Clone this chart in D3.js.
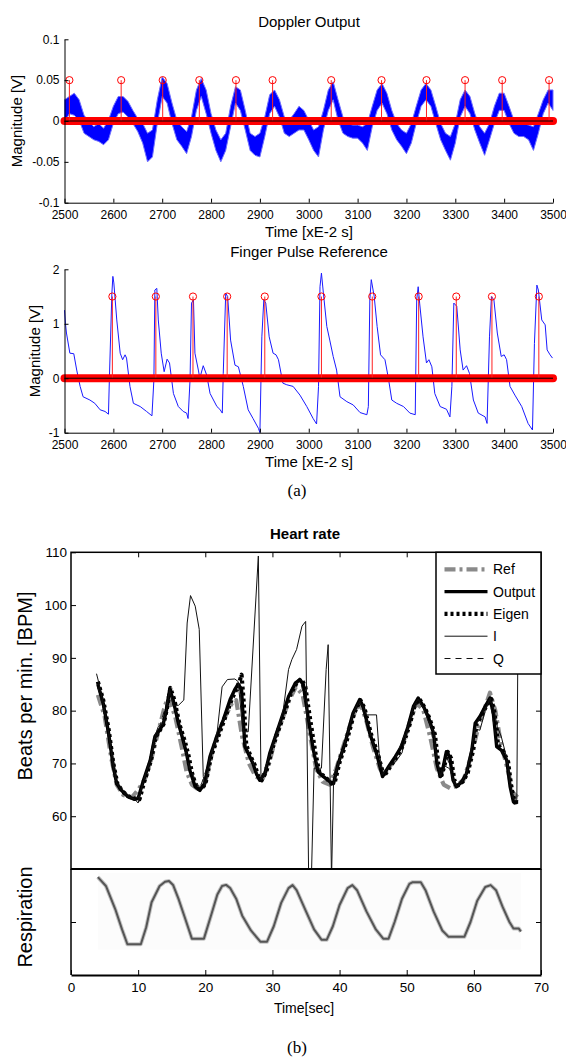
<!DOCTYPE html>
<html>
<head>
<meta charset="utf-8">
<script src="https://cdn.jsdelivr.net/npm/d3@7"></script>
<style>
  body { margin: 0; background: #fff; }
  svg { display: block; font-family: "Liberation Sans", Arial, sans-serif; }
</style>
</head>
<body>
<svg id="drawing_region" width="566" height="1061"></svg>
<script>
// ---------------- data: (a) ----------------
const timeTicksA = [2500, 2600, 2700, 2800, 2900, 3000, 3100, 3200, 3300, 3400, 3500];
const dopplerYTicks = [-0.1, -0.05, 0, 0.05, 0.1];
const pulseYTicks = [-1, 0, 1, 2];

// Doppler output: noisy band, upper / lower edge read every 10 samples from 2500
const dopplerStart = 2500, dopplerStep = 10;
const dopplerHi = [0.026, 0.030, 0.034, 0.026, 0.007, -0.001, -0.007, -0.003, -0.009, 0.001,
  0.018, 0.030, 0.030, 0.024, 0.013, 0.003, -0.003, -0.015, -0.011, 0.026,
  0.054, 0.046, 0.022, 0.001, -0.007, -0.013, 0.005, 0.038, 0.052, 0.038,
  0.009, -0.011, -0.023, -0.015, 0.018, 0.042, 0.038, 0.013, -0.015, -0.019,
  -0.015, 0.005, 0.032, 0.038, 0.026, 0.005, 0.001, 0.009, 0.018, 0.013,
  0.001, -0.011, -0.007, 0.013, 0.038, 0.048, 0.026, 0.005, -0.003, -0.005,
  -0.005, -0.007, -0.003, 0.018, 0.038, 0.046, 0.034, 0.013, -0.003, -0.011,
  -0.015, -0.003, 0.018, 0.038, 0.046, 0.038, 0.018, -0.003, -0.015, -0.019,
  -0.003, 0.026, 0.038, 0.030, 0.009, -0.007, -0.015, -0.003, 0.018, 0.034,
  0.034, 0.018, 0.001, -0.003, -0.003, -0.005, -0.007, 0.009, 0.026, 0.038, 0.038];
const dopplerLo = [-0.001, 0.009, 0.007, 0.001, -0.015, -0.019, -0.023, -0.025, -0.029, -0.023,
  -0.003, 0.009, 0.011, 0.005, -0.003, -0.013, -0.027, -0.050, -0.044, -0.003,
  0.030, 0.022, -0.003, -0.023, -0.031, -0.040, -0.019, 0.013, 0.030, 0.009,
  -0.015, -0.036, -0.050, -0.036, -0.007, 0.022, 0.013, -0.011, -0.036, -0.042,
  -0.044, -0.019, 0.009, 0.018, 0.005, -0.015, -0.019, -0.015, -0.011, -0.011,
  -0.023, -0.036, -0.044, -0.011, 0.013, 0.026, 0.001, -0.015, -0.019, -0.021,
  -0.021, -0.027, -0.036, -0.007, 0.013, 0.022, 0.009, -0.011, -0.023, -0.031,
  -0.040, -0.027, -0.003, 0.018, 0.026, 0.018, -0.003, -0.023, -0.036, -0.048,
  -0.027, 0.005, 0.018, 0.009, -0.011, -0.027, -0.042, -0.023, -0.003, 0.013,
  0.013, -0.003, -0.015, -0.019, -0.019, -0.023, -0.036, -0.015, 0.009, 0.022, 0.013];
const dopplerPeaks = [2510, 2616, 2701, 2776, 2851, 2926, 3046, 3149, 3241, 3320, 3396, 3492];
const dopplerPeakValue = 0.05;

// finger pulse reference [time, volts]
const pulse = [[2500,1.25],[2502,1.0],[2504,0.83],[2511,0.46],[2519,0.45],[2525,0.15],[2532,-0.15],
  [2538,-0.34],[2552,-0.40],[2562,-0.46],[2573,-0.58],[2583,-0.61],[2590,-0.66],[2592,0.03],[2597,1.56],
  [2599,1.87],[2601,1.75],[2607,1.07],[2614,0.46],[2619,0.34],[2624,0.43],[2627,0.37],[2634,-0.15],
  [2641,-0.46],[2655,-0.52],[2668,-0.61],[2679,-0.69],[2683,-0.03],[2685,1.62],[2689,1.65],[2692,1.07],
  [2698,0.46],[2704,0.12],[2710,0.35],[2715,0.28],[2723,-0.28],[2733,-0.52],[2743,-0.61],[2750,-0.64],
  [2753,-0.74],[2757,-0.03],[2760,1.38],[2764,1.44],[2767,0.46],[2774,0.15],[2777,0.0],[2784,0.23],
  [2791,0.06],[2798,-0.28],[2812,-0.52],[2818,-0.57],[2823,-0.64],[2825,0.09],[2830,1.56],[2834,1.50],
  [2840,0.70],[2849,0.24],[2856,0.21],[2866,-0.15],[2876,-0.58],[2886,-0.74],[2897,-0.92],[2900,-1.0],
  [2904,0.76],[2908,1.44],[2912,1.38],[2919,0.76],[2927,0.46],[2933,0.43],[2938,0.34],[2947,-0.09],
  [2955,-0.12],[2968,-0.15],[2982,-0.31],[2996,-0.52],[3009,-0.74],[3016,-0.84],[3020,-0.15],[3023,1.68],
  [3026,1.93],[3030,1.56],[3037,0.95],[3043,0.70],[3050,0.40],[3057,0.15],[3064,-0.34],[3078,-0.43],
  [3091,-0.49],[3105,-0.63],[3119,-0.67],[3122,-0.52],[3125,1.44],[3128,1.81],[3134,1.50],[3140,0.95],
  [3147,0.43],[3156,0.34],[3163,0.0],[3170,-0.40],[3180,-0.46],[3194,-0.52],[3207,-0.64],[3218,-0.67],
  [3221,1.44],[3224,1.68],[3227,1.38],[3234,0.76],[3241,0.28],[3246,0.34],[3252,0.21],[3258,-0.28],
  [3269,-0.52],[3282,-0.57],[3289,-0.71],[3293,-0.15],[3297,1.38],[3303,1.32],[3310,0.52],[3316,0.15],
  [3323,0.23],[3329,0.09],[3337,-0.40],[3347,-0.64],[3361,-0.71],[3365,-0.83],[3370,0.76],[3374,1.50],
  [3379,1.44],[3386,0.83],[3394,0.40],[3400,0.43],[3405,0.34],[3412,-0.15],[3422,-0.31],[3436,-0.52],
  [3449,-0.83],[3458,-0.95],[3462,0.64],[3467,1.71],[3470,1.62],[3477,1.07],[3484,0.98],[3488,0.52],
  [3494,0.43],[3499,0.37]];
const pulsePeaks = [2598, 2687, 2763, 2833, 2910, 3026, 3130, 3225, 3302, 3375, 3471];
const pulsePeakValue = 1.5;

// ---------------- data: (b) ----------------
const secTicks = [0, 10, 20, 30, 40, 50, 60, 70];
const hrYTicks = [60, 70, 80, 90, 100, 110];
const legendLabels = ["Ref", "Output", "Eigen", "I", "Q"];

const hrRef = [[4.0,83],[5.0,79],[6.0,71],[6.8,66],[7.8,64],[9.0,63.5],[10.0,65],[11.0,67],[12.0,71],
  [13.0,76],[14.0,81],[14.5,82.5],[15.5,79],[16.5,73],[17.2,68.5],[18.0,66],[19.0,65],[20.0,66.5],
  [21.0,72],[22.0,76],[23.0,79],[24.0,81.5],[24.6,82],[25.5,75],[26.5,70],[27.5,67.5],[28.5,67],
  [29.5,70],[30.5,75],[31.5,78.5],[32.5,82],[33.5,84.5],[34.5,83],[35.5,76],[36.5,69],[37.5,66.5],
  [38.5,66],[39.5,69],[40.5,73],[41.5,77],[42.5,80.5],[43.2,81],[44.0,78],[45.0,73],[46.0,69],
  [46.6,68],[47.5,69.5],[48.5,71],[49.5,74],[50.5,78],[51.5,81.5],[52.5,80],[53.5,75],[54.5,69],
  [55.5,66],[56.5,65.3],[57.5,65.8],[58.5,67],[59.5,71],[60.5,76],[61.5,80],[62.4,83.4],[63.2,80],
  [64.0,74],[65.0,69],[65.8,64.5],[66.5,63.6]];
const hrOutput = [[4.0,85],[4.8,81.4],[5.6,75.7],[6.3,69.4],[6.8,66.2],[7.5,64.9],[8.5,63.7],[9.5,63.2],
  [10.0,63.4],[10.8,66.8],[11.8,70.6],[12.5,75.1],[13.0,76.0],[13.7,77.3],[14.2,80],[14.7,84.0],
  [15.2,82.1],[16.0,77.6],[16.7,74.4],[17.2,71.9],[17.7,68.7],[18.5,65.6],[19.2,64.9],[19.9,66.2],
  [20.7,71.3],[21.7,75.1],[22.7,78.3],[23.7,82.1],[24.4,84.0],[24.9,85.0],[25.4,84.0],[25.9,73.2],
  [26.4,71.9],[27.1,70.0],[27.6,68.1],[28.1,66.8],[28.9,68.1],[29.6,71.9],[30.6,75.7],[31.6,79.5],
  [32.4,82.7],[33.4,85.2],[34.1,85.9],[34.6,84.9],[35.3,78.9],[36.1,72.5],[36.8,68.4],[37.6,67.5],
  [38.6,66.5],[39.1,66.2],[39.8,70.0],[40.8,73.8],[42.0,79.5],[43.0,82.1],[43.5,80.8],[44.5,75.7],
  [45.5,71.9],[46.4,67.5],[47.3,69.4],[48.3,71.3],[49.2,73.2],[50.2,77.0],[51.0,80.8],[51.7,82.4],
  [52.5,80.8],[53.2,78.9],[54.0,75.7],[54.5,70.0],[55.0,67.5],[55.4,69.1],[55.9,72.2],[56.4,71.3],
  [56.9,66.8],[57.4,65.6],[58.2,66.5],[58.9,68.1],[59.7,72.5],[60.2,77.6],[60.9,78.9],[61.7,80.8],
  [62.4,82.4],[62.9,79.5],[63.4,73.2],[64.1,72.5],[64.9,70.6],[65.4,65.6],[65.9,62.7],[66.6,62.7]];
const hrEigen = [[4.0,85.5],[4.8,82],[5.6,76.5],[6.3,70],[6.9,66.2],[7.6,64.8],[8.5,63.8],[9.5,63.3],
  [10.2,63.2],[10.9,66.5],[11.9,70.5],[12.6,75],[13.2,76.2],[13.8,77.5],[14.3,80.5],[14.8,84.3],
  [15.4,82],[16.2,77.2],[17.0,74],[17.5,71.5],[18.0,68.3],[18.7,65.3],[19.4,65],[20.1,66.6],[20.9,71.5],
  [21.9,75],[22.9,78.5],[23.9,82],[24.6,84],[25.1,85.5],[25.4,86.8],[25.7,82],[26.1,73.5],[26.7,71.5],
  [27.4,69.6],[27.9,67.5],[28.4,66.8],[29.1,68.5],[29.8,72],[30.8,76],[31.8,79.5],[32.6,82.8],
  [33.6,85.3],[34.3,86],[34.9,84.5],[35.6,78.5],[36.4,72],[37.0,68.2],[37.8,67.5],[38.8,66.2],
  [39.3,66.5],[40.0,70.2],[41.0,74],[42.2,79.6],[43.1,82],[43.7,80.5],[44.7,75.5],[45.7,71.8],
  [46.6,67.5],[47.5,69.3],[48.5,71.3],[49.4,73.3],[50.4,77.2],[51.2,81],[51.9,82.2],[52.7,80.5],
  [53.4,78.5],[54.2,75.5],[54.7,70],[55.2,67.8],[55.6,69.5],[56.1,72.2],[56.6,71],[57.1,66.8],
  [57.6,65.8],[58.4,66.6],[59.1,68.3],[59.9,72.5],[60.4,77.5],[61.1,79],[61.9,81],[62.6,82.2],
  [63.1,79.5],[63.6,73.5],[64.3,72.5],[65.1,70.3],[65.6,65.3],[66.1,62.6],[66.8,62.8]];
const hrI = [[3.8,87],[4.1,85.5],[4.8,81.4],[5.6,75.7],[6.3,69.4],[6.8,66.2],[7.5,64.9],[8.5,63.7],
  [9.5,63.2],[10.0,62.5],[10.8,66.8],[11.8,70.6],[12.5,75.1],[13.0,77],[13.7,77.5],[14.2,80],[14.7,84.0],
  [15.2,81],[16.0,81],[16.8,82],[17.3,96.6],[17.8,101.8],[18.5,99.8],[19.1,95.4],[19.7,67.5],[20.0,65.5],
  [20.7,71.3],[21.7,75.1],[22.5,84.5],[23.3,85.9],[24.4,86],[24.9,85.5],[25.6,76],[26.4,76],
  [27.9,109.3],[28.3,66.8],[28.9,68.1],[29.6,71.9],[30.6,75.7],[31.6,80],[32.4,87.8],[32.9,89.7],
  [33.6,91.6],[34.4,96],[34.95,96.9],[35.4,48],[35.8,48],[36.2,69.1],[37.3,69.1],[38.0,87.8],
  [38.3,92.5],[38.8,48],[39.1,66.2],[39.8,70.0],[40.8,73.8],[42.0,79.5],[42.8,81.5],[43.4,81.0],
  [44.0,79.2],[45.5,79.2],[45.9,71.9],[46.5,68.1],[47.5,69.5],[48.5,70.6],[49.3,72],[50.2,77],
  [51.0,80.8],[51.7,82.2],[52.5,80.5],[53.2,78],[54.0,76],[54.5,71],[55.0,67.5],[55.7,69.5],[56.4,69],
  [57.0,66.5],[57.5,65.6],[58.2,66.5],[59.0,68.5],[59.7,73],[60.2,76.5],[60.9,76.3],[61.7,80],
  [62.4,82.4],[63.0,80],[63.5,77],[64.1,75],[64.9,71],[65.4,66],[65.9,63.3],[66.4,63.2],[66.6,100]];
const hrQ = [[4.0,84.5],[5.6,76],[6.8,66.5],[8.5,64],[10,63.5],[11.8,70.5],[13,76],[14.7,83.5],[16,78],
  [17.7,69],[19.2,65.2],[20.7,71],[22.7,78],[24.4,83.5],[25.2,84],[25.9,74],[27.6,68.5],[28.2,67],
  [29.6,71.5],[31.6,79],[33.4,85],[34.2,85.5],[35.3,79],[36.8,68.8],[38.6,66.6],[39.8,69.8],[42,79.3],
  [43,81.8],[44.5,76],[46.4,67.8],[48.3,71],[50.2,77],[51.7,82],[53.2,79],[54.5,70.5],[55,67.8],
  [55.9,71.5],[57.4,65.8],[58.9,68],[60.2,77],[61.7,80.5],[62.4,82],[63.4,74],[64.9,70.5],[65.9,63],
  [66.6,63]];

// respiration trace, normalised height 0..1
const respiration = [[4.0,0.924],[5.2,0.84],[6.6,0.62],[7.6,0.43],[8.4,0.29],[10.4,0.29],[11.2,0.45],
  [12.0,0.686],[13.2,0.84],[14.0,0.88],[14.6,0.886],[15.2,0.85],[16.0,0.72],[16.9,0.552],[18.0,0.343],
  [19.8,0.343],[20.8,0.55],[21.8,0.76],[22.5,0.84],[23.1,0.85],[23.7,0.82],[24.6,0.72],[25.5,0.56],
  [26.8,0.42],[28.2,0.314],[29.2,0.314],[30.2,0.46],[31.3,0.68],[32.4,0.82],[33.0,0.848],[33.6,0.8],
  [35.0,0.6],[36.2,0.43],[37.3,0.333],[38.1,0.333],[39.0,0.46],[40.0,0.66],[41.2,0.82],[41.9,0.848],
  [42.6,0.8],[44.0,0.6],[45.4,0.43],[46.5,0.343],[47.3,0.343],[48.2,0.5],[49.3,0.72],[50.4,0.86],
  [50.9,0.876],[52.1,0.876],[52.8,0.8],[54.0,0.6],[55.3,0.42],[56.2,0.362],[58.6,0.362],[59.5,0.5],
  [60.5,0.7],[61.7,0.83],[62.5,0.848],[63.3,0.8],[64.3,0.64],[65.3,0.5],[65.9,0.438],[66.7,0.438],
  [67.0,0.41]];

// ---------------- drawing ----------------
const svg = d3.select('#drawing_region');

function styleAxis(g, size) {
    g.attr('font-family', null).attr('font-size', size);
    g.selectAll('path.domain').attr('stroke', '#000');
    g.selectAll('.tick line').attr('stroke', '#000');
    g.selectAll('.tick text').attr('fill', '#000');
}

function stemPanel(cfg) {
    const g = svg.append('g');
    const x = d3.scaleLinear().domain([2500, 3500]).range([64.5, 553]);
    const y = d3.scaleLinear().domain(cfg.domain).range([cfg.bottom, cfg.top]);

    cfg.signal(g, x, y);

    // zero-valued stem markers form a thick red band
    g.append('line')
        .attr('x1', x(2500)).attr('x2', x(3500))
        .attr('y1', y(0)).attr('y2', y(0))
        .attr('stroke', '#ff0000').attr('stroke-width', 8).attr('stroke-linecap', 'round');

    g.selectAll('line.stem').data(cfg.peaks).join('line')
        .attr('class', 'stem')
        .attr('x1', d => x(d)).attr('x2', d => x(d))
        .attr('y1', y(0)).attr('y2', y(cfg.peakValue))
        .attr('stroke', '#ff2020').attr('stroke-width', 1);

    g.selectAll('circle.mark').data(cfg.peaks).join('circle')
        .attr('class', 'mark')
        .attr('cx', d => x(d)).attr('cy', y(cfg.peakValue)).attr('r', 3.6)
        .attr('fill', 'none').attr('stroke', '#ff0000').attr('stroke-width', 1);

    g.append('line')
        .attr('x1', x(2500)).attr('x2', x(3500))
        .attr('y1', y(0)).attr('y2', y(0))
        .attr('stroke', '#000').attr('stroke-width', 1);

    const yaxis = g.append('g').attr('transform', `translate(${x(2500)},0)`)
        .call(d3.axisLeft(y).tickValues(cfg.yticks).tickFormat(d => String(d))
            .tickSizeInner(-4).tickSizeOuter(0).tickPadding(5));
    styleAxis(yaxis, 12);

    const xaxis = g.append('g').attr('transform', `translate(0,${cfg.bottom})`)
        .call(d3.axisBottom(x).tickValues(timeTicksA).tickFormat(d => String(d))
            .tickSizeInner(-4).tickSizeOuter(0).tickPadding(8));
    styleAxis(xaxis, 12);

    g.append('text')
        .attr('x', 309).attr('y', cfg.top - 12)
        .attr('text-anchor', 'middle').attr('font-size', 15)
        .text(cfg.title);

    g.append('text')
        .attr('x', 309).attr('y', cfg.bottom + 34)
        .attr('text-anchor', 'middle').attr('font-size', 15)
        .text('Time [xE-2 s]');

    g.append('text')
        .attr('transform', `translate(${cfg.ylabelX},${(cfg.top + cfg.bottom) / 2}) rotate(-90)`)
        .attr('text-anchor', 'middle').attr('font-size', 15)
        .text('Magnitude [V]');
}

// Doppler output
stemPanel({
    title: 'Doppler Output', domain: [-0.1, 0.1], top: 39.3, bottom: 202.7,
    yticks: dopplerYTicks, peaks: dopplerPeaks, peakValue: dopplerPeakValue, ylabelX: 22,
    signal: (g, x, y) => {
        const band = dopplerHi.map((h, i) => ({ t: dopplerStart + i * dopplerStep, hi: h, lo: dopplerLo[i] }));
        g.append('path').datum(band)
            .attr('d', d3.area().x(d => x(d.t)).y0(d => y(d.lo)).y1(d => y(d.hi)))
            .attr('fill', '#0000ff').attr('stroke', '#7070ff').attr('stroke-width', 1);
    }
});

// Finger pulse reference
stemPanel({
    title: 'Finger Pulse Reference', domain: [-1, 2], top: 269.3, bottom: 432.7,
    yticks: pulseYTicks, peaks: pulsePeaks, peakValue: pulsePeakValue, ylabelX: 40,
    signal: (g, x, y) => {
        g.append('path').datum(pulse)
            .attr('d', d3.line().x(d => x(d[0])).y(d => y(d[1])))
            .attr('fill', 'none').attr('stroke', '#1a1aff').attr('stroke-width', 1);
    }
});

svg.append('text').attr('x', 297).attr('y', 496)
    .attr('text-anchor', 'middle').attr('font-family', '"Liberation Serif", "Times New Roman", serif')
    .attr('font-size', 17).text('(a)');

// ---------- (b) heart rate + respiration ----------
const xB = d3.scaleLinear().domain([0, 70]).range([71, 541]);
const yHR = d3.scaleLinear().domain([50, 110]).range([869, 552.3]);
const yResp = d3.scaleLinear().domain([0, 1]).range([975, 869]);

const gb = svg.append('g');

gb.append('defs').append('clipPath').attr('id', 'hrclip')
    .append('rect')
    .attr('x', xB(0)).attr('y', yHR(110))
    .attr('width', xB(70) - xB(0)).attr('height', yHR(50) - yHR(110));

const seriesStyle = {
    Ref:    { data: hrRef,    color: '#8a8a8a', width: 4.2, dash: '11,4,3,4' },
    Output: { data: hrOutput, color: '#000',    width: 3.4, dash: null },
    Eigen:  { data: hrEigen,  color: '#000',    width: 4.2, dash: '3,3' },
    I:      { data: hrI,      color: '#111',    width: 1,   dash: null },
    Q:      { data: hrQ,      color: '#111',    width: 1,   dash: '6,5' }
};

const hrLine = d3.line().x(d => xB(d[0])).y(d => yHR(d[1]));
const lines = gb.append('g').attr('clip-path', 'url(#hrclip)');
legendLabels.forEach(k => {
    const s = seriesStyle[k];
    lines.append('path').datum(s.data)
        .attr('d', hrLine)
        .attr('fill', 'none').attr('stroke', s.color).attr('stroke-width', s.width)
        .attr('stroke-dasharray', s.dash).attr('stroke-linejoin', 'round');
});

// heart-rate box and ticks
gb.append('rect')
    .attr('x', xB(0)).attr('y', yHR(110))
    .attr('width', xB(70) - xB(0)).attr('height', yHR(50) - yHR(110))
    .attr('fill', 'none').attr('stroke', '#000').attr('stroke-width', 1.5);

const hrLeft = gb.append('g').attr('transform', `translate(${xB(0)},0)`)
    .call(d3.axisLeft(yHR).tickValues(hrYTicks).tickSizeInner(-5).tickSizeOuter(0).tickPadding(4));
hrLeft.select('.domain').remove();
styleAxis(hrLeft, 13.5);

const hrRight = gb.append('g').attr('transform', `translate(${xB(70)},0)`)
    .call(d3.axisRight(yHR).tickValues(hrYTicks.slice(0, 5)).tickFormat('').tickSizeInner(-5).tickSizeOuter(0));
hrRight.select('.domain').remove();
styleAxis(hrRight, 13.5);

const hrTop = gb.append('g').attr('transform', `translate(0,${yHR(110)})`)
    .call(d3.axisTop(xB).tickValues(secTicks.slice(1, 7)).tickFormat('').tickSizeInner(-5).tickSizeOuter(0));
hrTop.select('.domain').remove();
styleAxis(hrTop, 13.5);

// legend
const legendY = d3.scalePoint().domain(legendLabels).range([569.3, 658.5]);
const legend = gb.append('g');
legend.append('rect')
    .attr('x', 436).attr('y', yHR(110)).attr('width', xB(70) - 436).attr('height', 674 - yHR(110))
    .attr('fill', '#fff').attr('stroke', '#000').attr('stroke-width', 1.5);
legendLabels.forEach(k => {
    const s = seriesStyle[k];
    legend.append('line')
        .attr('x1', 444.5).attr('x2', 487.5)
        .attr('y1', legendY(k)).attr('y2', legendY(k))
        .attr('stroke', s.color).attr('stroke-width', s.width).attr('stroke-dasharray', s.dash);
    legend.append('text')
        .attr('x', 493).attr('y', legendY(k)).attr('dy', '0.36em')
        .attr('font-size', 14).text(k);
});

gb.append('text')
    .attr('x', 305).attr('y', 539)
    .attr('text-anchor', 'middle').attr('font-size', 15).attr('font-weight', 'bold')
    .text('Heart rate');

gb.append('text')
    .attr('transform', `translate(32,686) rotate(-90)`)
    .attr('text-anchor', 'middle').attr('font-size', 20)
    .text('Beats per min. [BPM]');

// respiration panel
const respExtent = d3.extent(respiration, d => d[0]);
const respTop = d3.max(respiration, d => d[1]) + 0.04;
const respBottom = d3.min(respiration, d => d[1]) - 0.05;
gb.append('rect')
    .attr('x', xB(respExtent[0])).attr('y', yResp(respTop))
    .attr('width', xB(respExtent[1]) - xB(respExtent[0]))
    .attr('height', yResp(respBottom) - yResp(respTop))
    .attr('fill', '#fcfcfc');

const respLine = d3.line().x(d => xB(d[0])).y(d => yResp(d[1]));
gb.append('path').datum(respiration)
    .attr('d', respLine).attr('fill', 'none')
    .attr('stroke', '#c4c4c4').attr('stroke-width', 4).attr('stroke-linejoin', 'round');
gb.append('path').datum(respiration)
    .attr('d', respLine).attr('fill', 'none')
    .attr('stroke', '#555').attr('stroke-width', 2).attr('stroke-linejoin', 'round');

gb.append('line').attr('x1', xB(0)).attr('x2', xB(0)).attr('y1', yResp(1)).attr('y2', yResp(0))
    .attr('stroke', '#000').attr('stroke-width', 1.5);
gb.append('line').attr('x1', xB(70)).attr('x2', xB(70)).attr('y1', yResp(1)).attr('y2', yResp(0))
    .attr('stroke', '#000').attr('stroke-width', 1.5);
gb.append('line').attr('x1', xB(0)).attr('x2', xB(70)).attr('y1', yResp(1)).attr('y2', yResp(1))
    .attr('stroke', '#000').attr('stroke-width', 2.2);

const respLeft = gb.append('g').attr('transform', `translate(${xB(0)},0)`)
    .call(d3.axisLeft(yResp).tickValues([0.5]).tickFormat('').tickSizeInner(-5).tickSizeOuter(0));
respLeft.select('.domain').remove();
styleAxis(respLeft, 13.5);
const respRight = gb.append('g').attr('transform', `translate(${xB(70)},0)`)
    .call(d3.axisRight(yResp).tickValues([0.5]).tickFormat('').tickSizeInner(-5).tickSizeOuter(0));
respRight.select('.domain').remove();
styleAxis(respRight, 13.5);

const xaxisB = gb.append('g').attr('transform', `translate(0,${yResp(0)})`)
    .call(d3.axisBottom(xB).tickValues(secTicks).tickSizeInner(-5).tickSizeOuter(0).tickPadding(7));
xaxisB.select('.domain').attr('stroke-width', 2);
styleAxis(xaxisB, 13.5);

gb.append('text')
    .attr('transform', `translate(32,${yResp(0.5) - 5}) rotate(-90)`)
    .attr('text-anchor', 'middle').attr('font-size', 20)
    .text('Respiration');

gb.append('text')
    .attr('x', 304).attr('y', 1013)
    .attr('text-anchor', 'middle').attr('font-size', 14)
    .text('Time[sec]');

svg.append('text').attr('x', 297).attr('y', 1053)
    .attr('text-anchor', 'middle').attr('font-family', '"Liberation Serif", "Times New Roman", serif')
    .attr('font-size', 17).text('(b)');
</script>
</body>
</html>
